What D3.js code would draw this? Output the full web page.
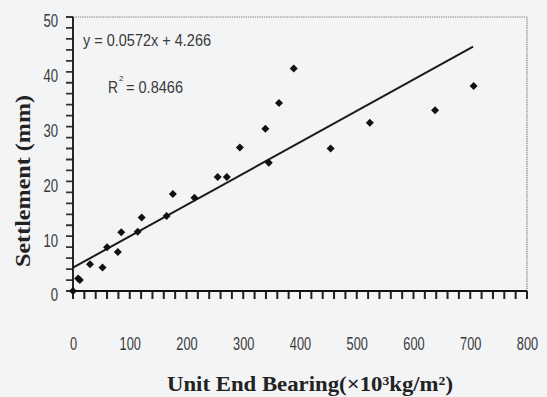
<!DOCTYPE html>
<html>
<head>
<meta charset="utf-8">
<script src="https://cdn.jsdelivr.net/npm/d3@7"></script>
<style>
  html, body { margin: 0; padding: 0; background: #f3f4f6; }
  svg { display: block; }
</style>
</head>
<body>
<svg id="chart" width="547" height="397"></svg>
<script>
// ---- data ----
const bearing = [0, 9, 12, 30, 52, 60, 79, 85, 114, 121, 165, 176, 214, 255, 271, 294, 339, 345, 363, 389, 454, 523, 638, 706];
const settlement = [0, 2.3, 2.0, 4.9, 4.3, 8.0, 7.1, 10.7, 10.8, 13.4, 13.7, 17.7, 17.0, 20.8, 20.8, 26.2, 29.6, 23.4, 34.3, 40.6, 26.0, 30.7, 33.0, 37.4];
const trendSlope = 0.0572;
const trendIntercept = 4.266;
const trendRange = [0, 705];
const xTicks = [0, 100, 200, 300, 400, 500, 600, 700, 800];
const xMinorTicks = d3.range(0, 801, 20);
const yTicks = [0, 10, 20, 30, 40, 50];
const yMinorTicks = d3.range(0, 51, 2);
const equationLabel = "y = 0.0572x + 4.266";
const r2Value = "0.8466";
const xTitle = "Unit End Bearing(×10³kg/m²)";
const yTitle = "Settlement (mm)";

const svg = d3.select("#chart");
const W = 547, H = 397;
const m = { left: 73, right: 20, top: 17, bottom: 106 };
const x = d3.scaleLinear().domain([0, 800]).range([m.left, W - m.right]);
const y = d3.scaleLinear().domain([0, 50]).range([H - m.bottom, m.top]);

const tickFont = "'Liberation Sans Narrow', 'Arial Narrow', 'Liberation Sans', Arial, sans-serif";
const serif = "'Liberation Serif', 'Times New Roman', serif";

svg.append("rect").attr("width", W).attr("height", H).attr("fill", "#f3f4f6");

// frame (top and right, dotted gray)
svg.append("path")
  .attr("d", `M${x(0)},${y(50)}H${x(800)}V${y(0)}`)
  .attr("fill", "none").attr("stroke", "#8a8a8a").attr("stroke-width", 1.2)
  .attr("stroke-dasharray", "1.5,0.8");

// x axis (labels via d3 axis)
const xAxis = d3.axisBottom(x).tickValues(xTicks).tickSize(0);
const gx = svg.append("g").attr("transform", `translate(0,${y(0)})`).call(xAxis);
gx.select(".domain").remove();
gx.selectAll(".tick text")
  .attr("y", 59).attr("dy", 0)
  .attr("font-family", tickFont).attr("font-size", 18).attr("fill", "#3a3a3a")
  .attr("lengthAdjust", "spacingAndGlyphs")
  .attr("textLength", d => String(d).length * 7.1);

// y axis
const yAxis = d3.axisLeft(y).tickValues(yTicks).tickSize(0);
const gy = svg.append("g").attr("transform", `translate(${x(0)},0)`).call(yAxis);
gy.select(".domain").remove();
gy.selectAll(".tick text")
  .attr("x", -15).attr("dy", "0.55em")
  .attr("font-family", tickFont).attr("font-size", 18).attr("fill", "#3a3a3a")
  .attr("lengthAdjust", "spacingAndGlyphs")
  .attr("textLength", d => String(d).length * 7.3);

// tick marks (drawn as one path each)
svg.append("path")
  .attr("d", xMinorTicks.map(d => `M${x(d)},${y(0)}v8`).join(""))
  .attr("fill", "none").attr("stroke", "#222").attr("stroke-width", 2);
svg.append("path")
  .attr("d", yMinorTicks.map(d => `M${x(0) - 7},${y(d)}h7`).join(""))
  .attr("fill", "none").attr("stroke", "#333").attr("stroke-width", 1.8);

// axis lines
svg.append("path")
  .attr("d", `M${x(0)},${y(50)}V${y(0)}H${x(800)}`)
  .attr("fill", "none").attr("stroke", "#111").attr("stroke-width", 1.8);

// trend line
svg.append("line")
  .attr("x1", x(trendRange[0])).attr("y1", y(trendSlope * trendRange[0] + trendIntercept))
  .attr("x2", x(trendRange[1])).attr("y2", y(trendSlope * trendRange[1] + trendIntercept))
  .attr("stroke", "#1a1a1a").attr("stroke-width", 2);

// points
const sym = d3.symbol().type(d3.symbolSquare).size(32);
svg.append("g").selectAll("path")
  .data(bearing.map((b, i) => [b, settlement[i]]))
  .join("path")
  .attr("d", sym)
  .attr("transform", d => `translate(${x(d[0])},${y(d[1])}) rotate(45)`)
  .attr("fill", "#111");

// equation text
svg.append("text")
  .attr("x", 83).attr("y", 46)
  .attr("font-family", tickFont).attr("font-size", 17).attr("fill", "#3a3a3a")
  .attr("textLength", 128).attr("lengthAdjust", "spacingAndGlyphs")
  .text(equationLabel);

svg.append("text")
  .attr("x", 108).attr("y", 93)
  .attr("font-family", tickFont).attr("font-size", 17).attr("fill", "#3a3a3a")
  .attr("textLength", 10).attr("lengthAdjust", "spacingAndGlyphs")
  .text("R");
svg.append("text")
  .attr("x", 119).attr("y", 81)
  .attr("font-family", tickFont).attr("font-size", 8).attr("fill", "#3a3a3a")
  .text("2");
svg.append("text")
  .attr("x", 126).attr("y", 93)
  .attr("font-family", tickFont).attr("font-size", 17).attr("fill", "#3a3a3a")
  .attr("textLength", 57).attr("lengthAdjust", "spacingAndGlyphs")
  .text("= " + r2Value);

// axis titles
svg.append("text")
  .attr("x", 310).attr("y", 391)
  .attr("text-anchor", "middle")
  .attr("font-family", serif).attr("font-weight", "bold").attr("font-size", 21).attr("fill", "#222")
  .attr("textLength", 286).attr("lengthAdjust", "spacingAndGlyphs")
  .text(xTitle);

svg.append("text")
  .attr("transform", "translate(30,181) rotate(-90)")
  .attr("text-anchor", "middle")
  .attr("font-family", serif).attr("font-weight", "bold").attr("font-size", 22).attr("fill", "#222")
  .attr("textLength", 172).attr("lengthAdjust", "spacingAndGlyphs")
  .text(yTitle);
</script>
</body>
</html>
